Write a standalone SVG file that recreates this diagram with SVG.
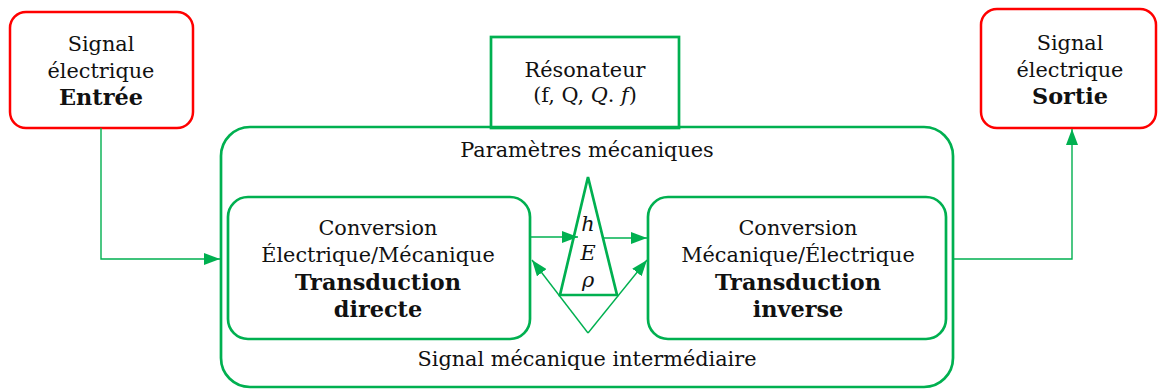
<svg xmlns="http://www.w3.org/2000/svg" width="1158" height="389" viewBox="0 0 1158 389">
<style>
text{font-family:"DejaVu Serif","Liberation Serif",serif;font-size:20.8px;fill:#111;text-anchor:middle}
.b{font-weight:bold;font-size:22.4px}
.i{font-style:italic}
.red{fill:#fff;stroke:#ff0000;stroke-width:2.5}
.grn{fill:none;stroke:#00b050;stroke-width:2.7}
.con{fill:none;stroke:#00b050;stroke-width:1.4}
</style>
<defs>
<marker id="ah" viewBox="0 0 16 12" refX="16" refY="6" markerWidth="16" markerHeight="12" markerUnits="userSpaceOnUse" orient="auto">
<path d="M0,0 L16,6 L0,12 Z" fill="#00b050"/>
</marker>
</defs>
<rect width="1158" height="389" fill="#fff"/>
<g id="outer">
<rect class="grn" x="221" y="127" width="732" height="260" rx="29"/>
<text x="587" y="157">Paramètres mécaniques</text>
<text x="587" y="366">Signal mécanique intermédiaire</text>
</g>
<g id="entree">
<rect class="red" x="10" y="12" width="183" height="116" rx="16"/>
<text x="101" y="51">Signal</text>
<text x="101" y="78">électrique</text>
<text x="101" y="105" class="b">Entrée</text>
</g>
<g id="sortie">
<rect class="red" x="981" y="9" width="175" height="119" rx="16"/>
<text x="1070" y="50">Signal</text>
<text x="1070" y="77">électrique</text>
<text x="1070" y="104" class="b">Sortie</text>
</g>
<g id="resonateur">
<rect class="grn" x="491" y="37" width="188" height="91" fill="#fff"/>
<text x="585" y="77">Résonateur</text>
<text x="585" y="102">(f, Q, <tspan class="i">Q</tspan>. <tspan class="i">f</tspan>)</text>
</g>
<g id="directe">
<rect class="grn" x="228" y="197" width="302" height="142" rx="20"/>
<text x="378" y="235">Conversion</text>
<text x="378" y="262">Électrique/Mécanique</text>
<text x="378" y="290" class="b">Transduction</text>
<text x="378" y="317" class="b">directe</text>
</g>
<g id="inverse">
<rect class="grn" x="648" y="197" width="298" height="142" rx="20"/>
<text x="798" y="235">Conversion</text>
<text x="798" y="262">Mécanique/Électrique</text>
<text x="798" y="290" class="b">Transduction</text>
<text x="798" y="317" class="b">inverse</text>
</g>
<g id="parametres">
<polygon class="grn" points="588,177 560,295 617,295"/>
<text x="588" y="231" class="i">h</text>
<text x="588" y="260" class="i">E</text>
<text x="588" y="287" class="i">ρ</text>
</g>
<g id="connectors">
<polyline class="con" points="101,128 101,259 220,259" marker-end="url(#ah)"/>
<polyline class="con" points="953,259 1072,259 1072,129" marker-end="url(#ah)"/>
<line class="con" x1="530" y1="237" x2="578" y2="237" marker-end="url(#ah)"/>
<line class="con" x1="604" y1="238" x2="647" y2="238" marker-end="url(#ah)"/>
<line class="con" x1="588" y1="333" x2="647" y2="260" marker-end="url(#ah)"/>
<line class="con" x1="588" y1="333" x2="532" y2="260" marker-end="url(#ah)"/>
</g>
</svg>
